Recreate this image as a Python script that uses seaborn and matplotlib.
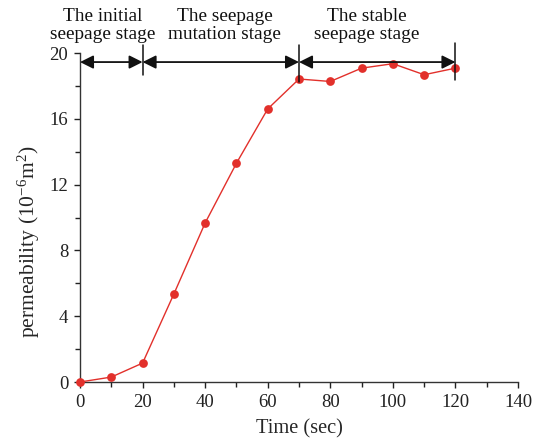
import matplotlib
matplotlib.use("Agg")
import matplotlib.pyplot as plt
import seaborn as sns
import pandas as pd
from matplotlib.ticker import MultipleLocator

time_sec = [0, 10, 20, 30, 40, 50, 60, 70, 80, 90, 100, 110, 120]
permeability = [0.0, 0.3, 1.15, 5.35, 9.67, 13.3, 16.6, 18.42, 18.27, 19.08, 19.35, 18.68, 19.08]
stage_labels = ["The initial\nseepage stage", "The seepage\nmutation stage", "The stable\nseepage stage"]
stage_bounds = [0, 20, 70, 120]
stage_label_x = [7.2, 46.2, 91.6]

df = pd.DataFrame({"Time (sec)": time_sec, "permeability": permeability})

sns.set_style("ticks")
plt.rcParams["font.family"] = ["Liberation Serif", "DejaVu Serif"]
plt.rcParams["mathtext.fontset"] = "custom"
plt.rcParams["mathtext.rm"] = "Liberation Serif"
plt.rcParams["mathtext.it"] = "Liberation Serif:italic"

fig = plt.figure(figsize=(5.45, 4.47), dpi=100)
ax = fig.add_axes([0.1468, 0.1454, 0.8037, 0.7360])

red = "#e2302b"
sns.lineplot(data=df, x="Time (sec)", y="permeability", ax=ax, color=red,
             linewidth=1.0, marker="o", markersize=6.3, markeredgewidth=0,
             clip_on=False, zorder=3)

ax.set_xlim(0, 140)
ax.set_ylim(0, 20)
ax.xaxis.set_major_locator(MultipleLocator(20))
ax.xaxis.set_minor_locator(MultipleLocator(10))
ax.yaxis.set_major_locator(MultipleLocator(4))
ax.yaxis.set_minor_locator(MultipleLocator(2))
ax.tick_params(axis="both", which="major", direction="out", length=4.5, width=1,
               labelsize=13.5, colors="#222222", pad=4)
ax.tick_params(axis="both", which="minor", direction="out", length=3.5, width=1,
               colors="#222222")
for s in ["top", "right"]:
    ax.spines[s].set_visible(False)
for s in ["left", "bottom"]:
    ax.spines[s].set_color("#333333")
    ax.spines[s].set_linewidth(1.0)

ax.set_xlabel("Time (sec)", fontsize=14.7, labelpad=6)
ax.set_ylabel(r"permeability (10$^{-6}$m$^{2}$)", fontsize=15.5)
ax.yaxis.set_label_coords(-0.087, 0.4255)

arrow_y = 19.45
for a, b in zip(stage_bounds[:-1], stage_bounds[1:]):
    ax.annotate("", xy=(b, arrow_y), xytext=(a, arrow_y), xycoords="data",
                arrowprops=dict(arrowstyle="<|-|>", color="#111111", lw=1.3,
                                mutation_scale=20, shrinkA=0, shrinkB=0),
                annotation_clip=False, zorder=4)

for xb, y0, y1 in [(20, 18.66, 20.5), (70, 18.24, 20.5), (120, 18.35, 20.6)]:
    ax.plot([xb, xb], [y0, y1], color="#111111", lw=1.1, clip_on=False, zorder=4)

for lx, lab in zip(stage_label_x, stage_labels):
    ax.text(lx, 20.63, lab, ha="center", va="bottom", fontsize=13.9,
            linespacing=1.02, color="#111111", clip_on=False)

fig.savefig("out.png", dpi=100)
